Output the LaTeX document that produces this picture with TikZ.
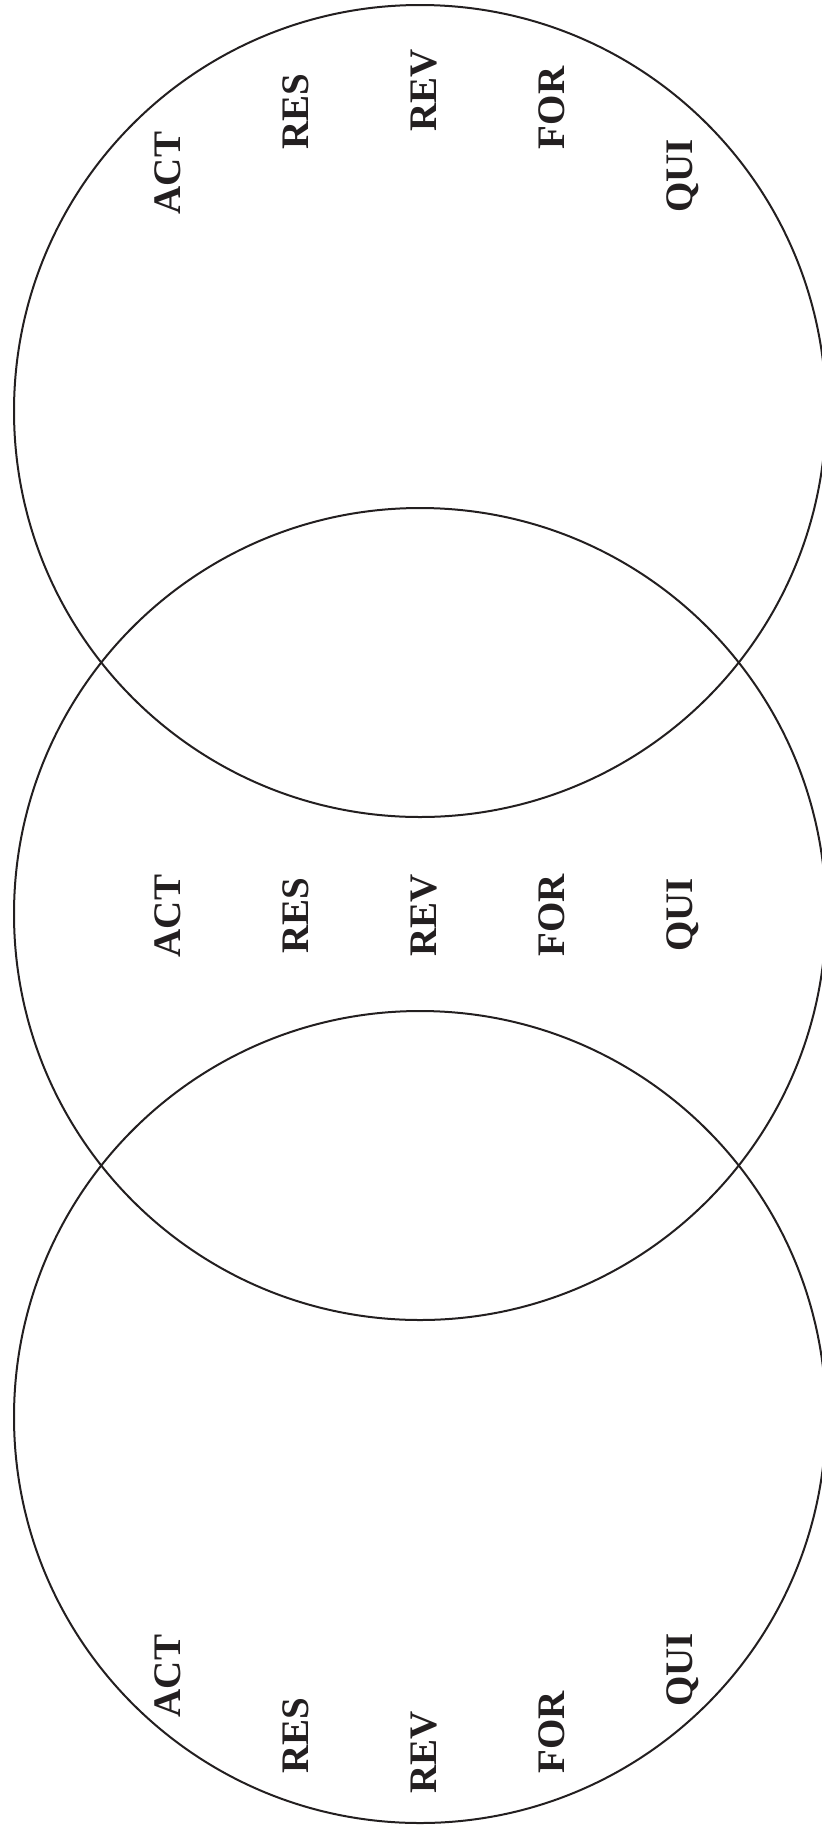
\documentclass[tikz,border=0pt]{standalone}
\usepackage{fontspec}
\setmainfont{Liberation Serif}
\definecolor{ink}{HTML}{231F20}
\begin{document}
\begin{tikzpicture}[x=1pt,y=-1pt,
  ring/.style={draw=ink,line width=2pt},
  lab/.style={rotate=90,anchor=base,inner sep=0pt,text=ink,
    font=\fontsize{39}{41}\selectfont\bfseries}]
\useasboundingbox (0,0) rectangle (822,1829);
\clip (0,0) rectangle (822,1829);
\draw[ring] (420,411) circle[radius=406];
\draw[ring] (420,914) circle[radius=406];
\draw[ring] (420,1417) circle[radius=406];
% top circle labels
\node[lab] (tA) at (180.5,173) {ACT};
\node[lab] (tR) at (308.5,112) {RES};
\node[lab] (tV) at (436.5,90) {REV};
\node[lab] (tF) at (564.5,108) {FOR};
\node[lab] (tQ) at (692.5,176) {QUI};
% middle labels
\node[lab] (mA) at (180.5,916) {ACT};
\node[lab] (mR) at (308.5,916) {RES};
\node[lab] (mV) at (436.5,915) {REV};
\node[lab] (mF) at (564.5,915) {FOR};
\node[lab] (mQ) at (692.5,915) {QUI};
% bottom labels
\node[lab] (bA) at (180.5,1676) {ACT};
\node[lab] (bR) at (308.5,1736) {RES};
\node[lab] (bV) at (436.5,1752) {REV};
\node[lab] (bF) at (564.5,1732) {FOR};
\node[lab] (bQ) at (692.5,1670) {QUI};
\end{tikzpicture}
\end{document}
